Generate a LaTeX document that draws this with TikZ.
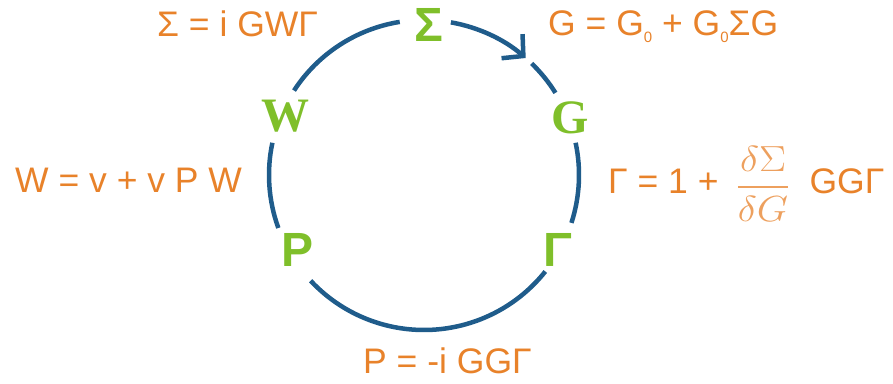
\documentclass[tikz,border=0pt]{standalone}
\usepackage{amsmath}
\usepackage{fontspec}
\setmainfont{Liberation Sans}
\newfontfamily\lserif{Liberation Serif}
\usetikzlibrary{arrows.meta}
\definecolor{cycblue}{HTML}{1F5C8B}
\definecolor{labgreen}{HTML}{7FBF2A}
\definecolor{eqorange}{HTML}{E8822A}
\definecolor{fracorange}{HTML}{EDA05E}
\begin{document}
\begin{tikzpicture}[x=1pt,y=1pt,
  cyc/.style={draw=cycblue,line width=4.5pt},
  lab/.style={text=labgreen,font=\fontsize{48}{48}\selectfont\bfseries,inner sep=0pt},
  labserif/.style={text=labgreen,font=\lserif\fontsize{48}{48}\selectfont\bfseries,inner sep=0pt},
  eq/.style={text=eqorange,font=\fontsize{35.5}{35.5}\selectfont,inner sep=0pt,anchor=base west}]
\useasboundingbox (0,0) rectangle (893,383);
\coordinate (c) at (424,208);
% cycle labels
\node[lab] (sig) at (429,358) {Σ};
\node[labserif] (g) at (570,265) {G};
\node[lab] (gam) at (558,133) {Γ};
\node[lab] (p) at (298,133) {P};
\node[labserif] (w) at (285,267) {W};
% arcs of the cycle
\draw[cyc,-{Straight Barb[length=15pt,width=32pt,line width=4.5pt]}] ([shift={(80:155)}]c) arc[start angle=80,end angle=49,radius=155];
\draw[cyc] ([shift={(46:155)}]c) arc[start angle=46,end angle=32,radius=155];
\draw[cyc] ([shift={(12:155)}]c) arc[start angle=12,end angle=-18,radius=155];
\draw[cyc] ([shift={(-38.5:155)}]c) arc[start angle=-38.5,end angle=-137,radius=155];
\draw[cyc] ([shift={(200:155)}]c) arc[start angle=200,end angle=168,radius=155];
\draw[cyc] ([shift={(147:155)}]c) arc[start angle=147,end angle=99,radius=155];
% equations
\node[eq] (esig) at (157,346) {Σ = i GWΓ};
\node[eq] (eg) at (548,347) {G = G\raisebox{-7pt}{\fontsize{15}{15}\selectfont 0} + G\raisebox{-7pt}{\fontsize{15}{15}\selectfont 0}ΣG};
\node[eq] (ew) at (15,190) {W = v + v P W};
\node[eq] (egam) at (608,189) {Γ = 1 +\hspace{17pt}{\color{fracorange}\raisebox{-2pt}{\scalebox{1.95}[1.75]{\fontsize{20.74}{20}\selectfont$\genfrac{}{}{1.5pt}{0}{\delta\Sigma}{\delta G}$}}}\hspace{19pt}GGΓ};
\node[eq] (ep) at (363,10) {P = -i GGΓ};
\end{tikzpicture}
\end{document}
